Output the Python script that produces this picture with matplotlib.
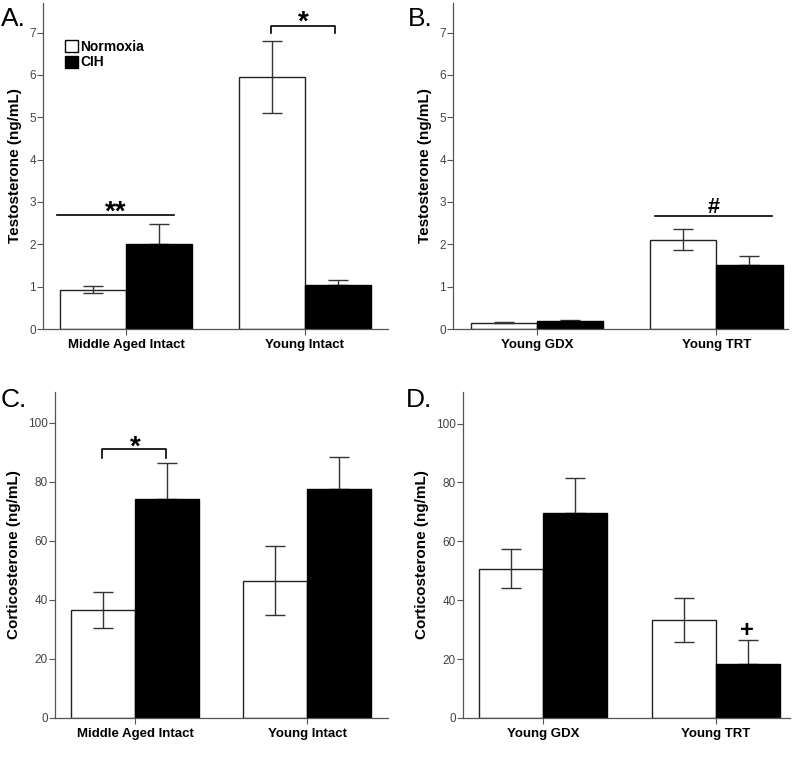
import matplotlib
matplotlib.use("Agg")
import matplotlib.pyplot as plt
from matplotlib.patches import Patch

plt.rcParams['font.family'] = ['Liberation Sans', 'DejaVu Sans']

# ---- data ----
cats_A = ["Middle Aged Intact", "Young Intact"]
testo_A_norm = [0.93, 5.96]
testo_A_norm_err = [0.09, 0.85]
testo_A_cih = [2.00, 1.03]
testo_A_cih_err = [0.49, 0.13]

cats_B = ["Young GDX", "Young TRT"]
testo_B_norm = [0.15, 2.11]
testo_B_norm_err = [0.01, 0.25]
testo_B_cih = [0.20, 1.52]
testo_B_cih_err = [0.005, 0.20]

cats_C = ["Middle Aged Intact", "Young Intact"]
cort_C_norm = [36.5, 46.6]
cort_C_norm_err = [6.1, 11.6]
cort_C_cih = [74.2, 77.5]
cort_C_cih_err = [12.1, 10.9]

cats_D = ["Young GDX", "Young TRT"]
cort_D_norm = [50.7, 33.3]
cort_D_norm_err = [6.7, 7.4]
cort_D_cih = [69.5, 18.5]
cort_D_cih_err = [12.1, 7.9]

W, H = 800, 770
fig = plt.figure(figsize=(W / 100, H / 100), dpi=100)


def px_axes(left, top, right, bottom):
    return fig.add_axes([left / W, 1 - bottom / H, (right - left) / W, (bottom - top) / H])


BW = 0.37
SP = '#555555'


def panel(ax, cats, norm, nerr, cih, cerr, ylim, yticks, ylabel, xlim):
    x = range(len(cats))
    xs_n = [i - BW / 2 for i in x]
    xs_c = [i + BW / 2 for i in x]
    ax.bar(xs_n, norm, BW, color='white', edgecolor='#222222', linewidth=1.0, zorder=2)
    ax.bar(xs_c, cih, BW, color='black', edgecolor='black', linewidth=1.0, zorder=2)
    ax.errorbar(xs_n, norm, yerr=nerr, fmt='none', ecolor='#333333', elinewidth=1.0,
                capsize=7.5, capthick=1.0, zorder=3)
    ax.errorbar(xs_c, cih, yerr=[[0] * len(cih), cerr], fmt='none', ecolor='#333333',
                elinewidth=1.0, capsize=7.5, capthick=1.0, zorder=1)
    ax.set_xlim(*xlim)
    ax.set_ylim(*ylim)
    ax.set_yticks(yticks)
    ax.set_yticklabels([str(t) for t in yticks], fontsize=8.5, color='#444444')
    ax.set_xticks(list(x))
    ax.set_xticklabels(cats, fontsize=9.5, fontweight='bold')
    ax.tick_params(axis='y', length=4, width=0.8, color=SP, pad=1)
    ax.tick_params(axis='x', length=4, width=0.8, color=SP, pad=3)
    for s in ['top', 'right']:
        ax.spines[s].set_visible(False)
    for s in ['left', 'bottom']:
        ax.spines[s].set_color(SP)
        ax.spines[s].set_linewidth(0.9)
    ax.set_ylabel(ylabel, fontsize=11, fontweight='bold', labelpad=5)


axA = px_axes(43, 3, 388, 329)
panel(axA, cats_A, testo_A_norm, testo_A_norm_err, testo_A_cih, testo_A_cih_err,
      (0, 7.7), [0, 1, 2, 3, 4, 5, 6, 7], "Testosterone (ng/mL)", (-0.464, 1.464))
axB = px_axes(453, 3, 788, 329)
panel(axB, cats_B, testo_B_norm, testo_B_norm_err, testo_B_cih, testo_B_cih_err,
      (0, 7.7), [0, 1, 2, 3, 4, 5, 6, 7], "Testosterone (ng/mL)", (-0.469, 1.40))
axC = px_axes(55, 392, 388, 718)
panel(axC, cats_C, cort_C_norm, cort_C_norm_err, cort_C_cih, cort_C_cih_err,
      (0, 110.5), [0, 20, 40, 60, 80, 100], "Corticosterone (ng/mL)", (-0.465, 1.47))
axD = px_axes(463, 392, 790, 718)
panel(axD, cats_D, cort_D_norm, cort_D_norm_err, cort_D_cih, cort_D_cih_err,
      (0, 110.7), [0, 20, 40, 60, 80, 100], "Corticosterone (ng/mL)", (-0.462, 1.43))

# significance marks
axA.plot([-0.385, 0.27], [2.69, 2.69], color='black', lw=1.2)
axA.text(-0.06, 2.58, "**", ha='center', va='baseline', fontsize=20, fontweight='bold')
axA.plot([0.81, 0.81, 1.17, 1.17], [7.0, 7.16, 7.16, 7.0], color='black', lw=1.2)
axA.text(0.99, 7.08, "*", ha='center', va='baseline', fontsize=20, fontweight='bold')

axB.plot([0.66, 1.31], [2.66, 2.66], color='black', lw=1.2)
axB.text(0.985, 2.75, "#", ha='center', va='baseline', fontsize=15.5, fontweight='bold')

axC.plot([-0.19, -0.19, 0.18, 0.18], [88.2, 91.1, 91.1, 88.2], color='black', lw=1.2)
axC.text(0.0, 89.3, "*", ha='center', va='baseline', fontsize=20, fontweight='bold')

axD.text(1.18, 27.6, "+", ha='center', va='baseline', fontsize=17, fontweight='bold')

# legend
handles = [Patch(facecolor='white', edgecolor='black', linewidth=1.0, label='Normoxia'),
           Patch(facecolor='black', edgecolor='black', linewidth=1.0, label='CIH')]
axA.legend(handles=handles, loc='upper left', bbox_to_anchor=(65 / W, 1 - 40 / H),
           bbox_transform=fig.transFigure, frameon=False, handlelength=0.95,
           handleheight=0.95, handletextpad=0.15, labelspacing=0.1, borderpad=0,
           borderaxespad=0, prop={'size': 10, 'weight': 'bold'})

# panel letters
for lbl, (xp, yp) in {"A.": (1, 19), "B.": (408, 19), "C.": (1, 400), "D.": (406, 400)}.items():
    fig.text(xp / W, 1 - yp / H, lbl, fontsize=19, ha='left', va='center')

fig.savefig("out.png", dpi=100)
